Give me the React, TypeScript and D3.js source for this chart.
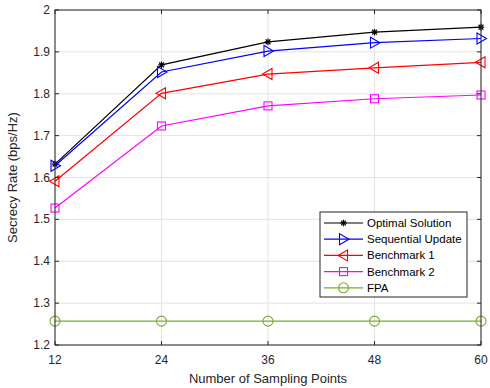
import React from "react";
import * as d3 from "d3";

const xValues = [12, 24, 36, 48, 60];
const optimal = [1.632, 1.869, 1.924, 1.947, 1.959];
const sequential = [1.628, 1.852, 1.902, 1.922, 1.932];
const bench1 = [1.591, 1.801, 1.847, 1.862, 1.875];
const bench2 = [1.527, 1.723, 1.771, 1.788, 1.797];
const fpa = [1.257, 1.257, 1.257, 1.257, 1.257];
const yTicks = [1.2, 1.3, 1.4, 1.5, 1.6, 1.7, 1.8, 1.9, 2];
const seriesNames = ["Optimal Solution", "Sequential Update", "Benchmark 1", "Benchmark 2", "FPA"];

const W = 490, H = 388;
const L = 55, R = 481, T = 10, B = 345;
const font = "Liberation Sans, Arial, Helvetica, sans-serif";

type Kind = "star" | "right" | "left" | "square" | "circle";

function Marker({ kind, x, y, color }: { kind: Kind; x: number; y: number; color: string }) {
  const s = 5;
  if (kind === "star") {
    const a = 3.3, d = 2.4;
    return (
      <g stroke={color} strokeWidth={1.2}>
        <line x1={x - a} y1={y} x2={x + a} y2={y} />
        <line x1={x} y1={y - a} x2={x} y2={y + a} />
        <line x1={x - d} y1={y - d} x2={x + d} y2={y + d} />
        <line x1={x - d} y1={y + d} x2={x + d} y2={y - d} />
      </g>
    );
  }
  if (kind === "right") {
    return <path d={`M${x - 4},${y - 5.5}L${x + 5.5},${y}L${x - 4},${y + 5.5}Z`} fill="none" stroke={color} strokeWidth={1.1} />;
  }
  if (kind === "left") {
    return <path d={`M${x + 4},${y - 5.5}L${x - 5.5},${y}L${x + 4},${y + 5.5}Z`} fill="none" stroke={color} strokeWidth={1.1} />;
  }
  if (kind === "square") {
    return <rect x={x - 4} y={y - 4} width={8} height={8} fill="none" stroke={color} strokeWidth={1.1} />;
  }
  return <circle cx={x} cy={y} r={s} fill="none" stroke={color} strokeWidth={1.1} />;
}

export default function App() {
  const x = d3.scaleLinear().domain([12, 60]).range([L, R]);
  const y = d3.scaleLinear().domain([1.2, 2]).range([B, T]);
  const series: { name: string; data: number[]; color: string; kind: Kind }[] = [
    { name: seriesNames[0], data: optimal, color: "#000000", kind: "star" },
    { name: seriesNames[1], data: sequential, color: "#0000ff", kind: "right" },
    { name: seriesNames[2], data: bench1, color: "#ff0000", kind: "left" },
    { name: seriesNames[3], data: bench2, color: "#ff00ff", kind: "square" },
    { name: seriesNames[4], data: fpa, color: "#77ac30", kind: "circle" },
  ];
  const line = d3.line<number>().x((_, i) => x(xValues[i])).y((d) => y(d));
  const legX = 320, legY = 212, legW = 147, legH = 85;

  return (
    <svg width={W} height={H} style={{ position: "absolute", left: 0, top: 0, background: "#fff" }} fontFamily={font}>
      <rect x={0} y={0} width={W} height={H} fill="#fff" />
      {/* grid */}
      {xValues.map((v) => (
        <line key={"gx" + v} x1={x(v)} x2={x(v)} y1={T} y2={B} stroke="#e3e3e3" strokeWidth={1} />
      ))}
      {yTicks.map((v) => (
        <line key={"gy" + v} x1={L} x2={R} y1={y(v)} y2={y(v)} stroke="#e3e3e3" strokeWidth={1} />
      ))}
      {/* series */}
      {series.map((s) => (
        <g key={s.name}>
          <path d={line(s.data) || ""} fill="none" stroke={s.color} strokeWidth={1.2} />
          {s.data.map((v, i) => (
            <Marker key={i} kind={s.kind} x={x(xValues[i])} y={y(v)} color={s.color} />
          ))}
        </g>
      ))}
      {/* axes box */}
      <rect x={L} y={T} width={R - L} height={B - T} fill="none" stroke="#262626" strokeWidth={1} />
      {xValues.map((v) => (
        <g key={"tx" + v}>
          <line x1={x(v)} x2={x(v)} y1={B} y2={B - 4} stroke="#262626" />
          <line x1={x(v)} x2={x(v)} y1={T} y2={T + 4} stroke="#262626" />
          <text x={x(v)} y={364} textAnchor="middle" fontSize={12} fill="#262626">{v}</text>
        </g>
      ))}
      {yTicks.map((v) => (
        <g key={"ty" + v}>
          <line x1={L} x2={L + 4} y1={y(v)} y2={y(v)} stroke="#262626" />
          <line x1={R} x2={R - 4} y1={y(v)} y2={y(v)} stroke="#262626" />
          <text x={L - 5} y={y(v) + 4} textAnchor="end" fontSize={12} fill="#262626">{d3.format(".1f")(v).replace(/^2\.0$/, "2")}</text>
        </g>
      ))}
      <text x={(L + R) / 2} y={383} textAnchor="middle" fontSize={13} fill="#262626">Number of Sampling Points</text>
      <text transform={`translate(17,${(T + B) / 2}) rotate(-90)`} textAnchor="middle" fontSize={13} fill="#262626">Secrecy Rate (bps/Hz)</text>
      {/* legend */}
      <rect x={legX} y={legY} width={legW} height={legH} fill="#fff" stroke="#262626" strokeWidth={1} />
      {series.map((s, i) => {
        const cy = legY + 11 + i * 16.2;
        return (
          <g key={"leg" + s.name}>
            <line x1={legX + 4} x2={legX + 43} y1={cy} y2={cy} stroke={s.color} strokeWidth={1.2} />
            <Marker kind={s.kind} x={legX + 23.5} y={cy} color={s.color} />
            <text x={legX + 47} y={cy + 4} fontSize={11.5} fill="#000">{s.name}</text>
          </g>
        );
      })}
    </svg>
  );
}
